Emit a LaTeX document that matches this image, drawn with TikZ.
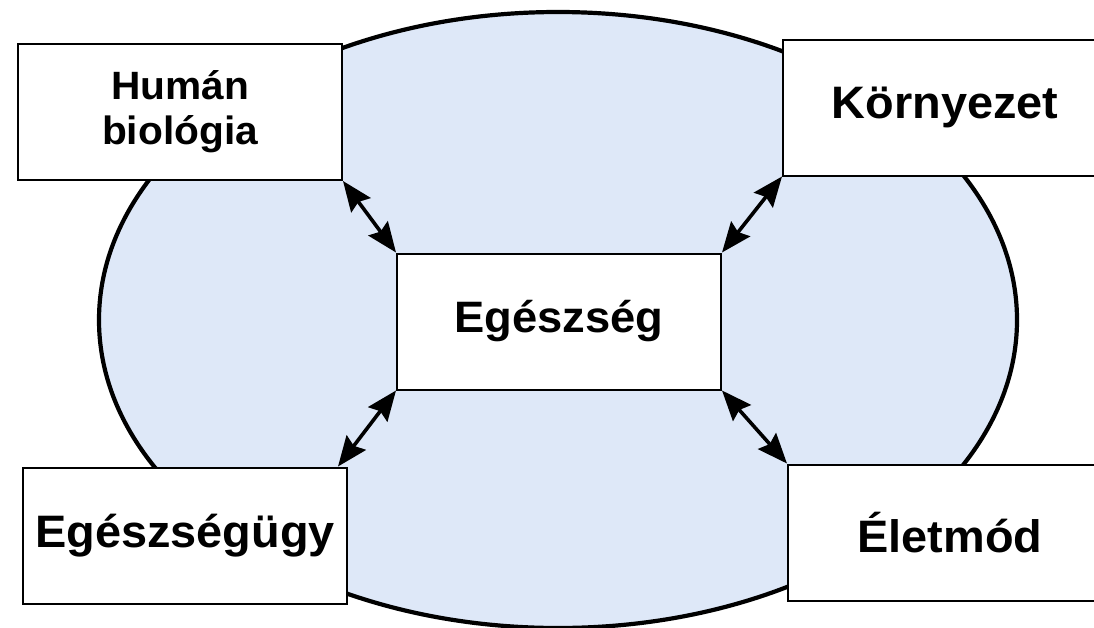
\documentclass[tikz,border=0pt]{standalone}
\usepackage{fontspec}
\setmainfont{Liberation Sans}[FakeStretch=1.03]
\usetikzlibrary{arrows.meta,calc}
\definecolor{ovalfill}{RGB}{222,232,248}
\tikzset{
  factor/.style={draw=black, line width=2pt, fill=white, rectangle,
    minimum width=324pt, minimum height=136pt, inner sep=0pt,
    align=center, font=\bfseries\fontsize{45.5}{50}\selectfont},
  link/.style={line width=3.6pt, {Stealth[length=30pt,width=24pt,inset=4pt]}-{Stealth[length=30pt,width=24pt,inset=4pt]}}
}
\begin{document}
\begin{tikzpicture}[x=1pt,y=-1pt]
  \useasboundingbox (0,0) rectangle (1094,627);
  \clip (0,0) rectangle (1094,627);
  \fill[white] (0,0) rectangle (1094,627);
  % background oval
  \draw[line width=4.2pt, fill=ovalfill] (558,320) ellipse [x radius=459, y radius=308];
  % the five boxes
  \node[factor, font=\bfseries\fontsize{39.5}{45}\selectfont] (hb) at (180,112) {Humán\\biológia};
  \node[factor] (kz) at (945,107.5) {Környezet};
  \node[factor] (egu) at (185,535.5) {Egészségügy};
  \node[factor] (em) at (950,532.5) {Életmód};
  \node[factor, font=\bfseries\fontsize{44}{48}\selectfont] (eg) at (559,321.5) {Egészség};
  % two-way links to the centre
  \draw[link] (hb.south east) -- (eg.north west);
  \draw[link] (kz.south west) -- (eg.north east);
  \draw[link] ($(egu.north east)+(-10,0)$) -- (eg.south west);
  \draw[link] (em.north west) -- (eg.south east);
\end{tikzpicture}
\end{document}
